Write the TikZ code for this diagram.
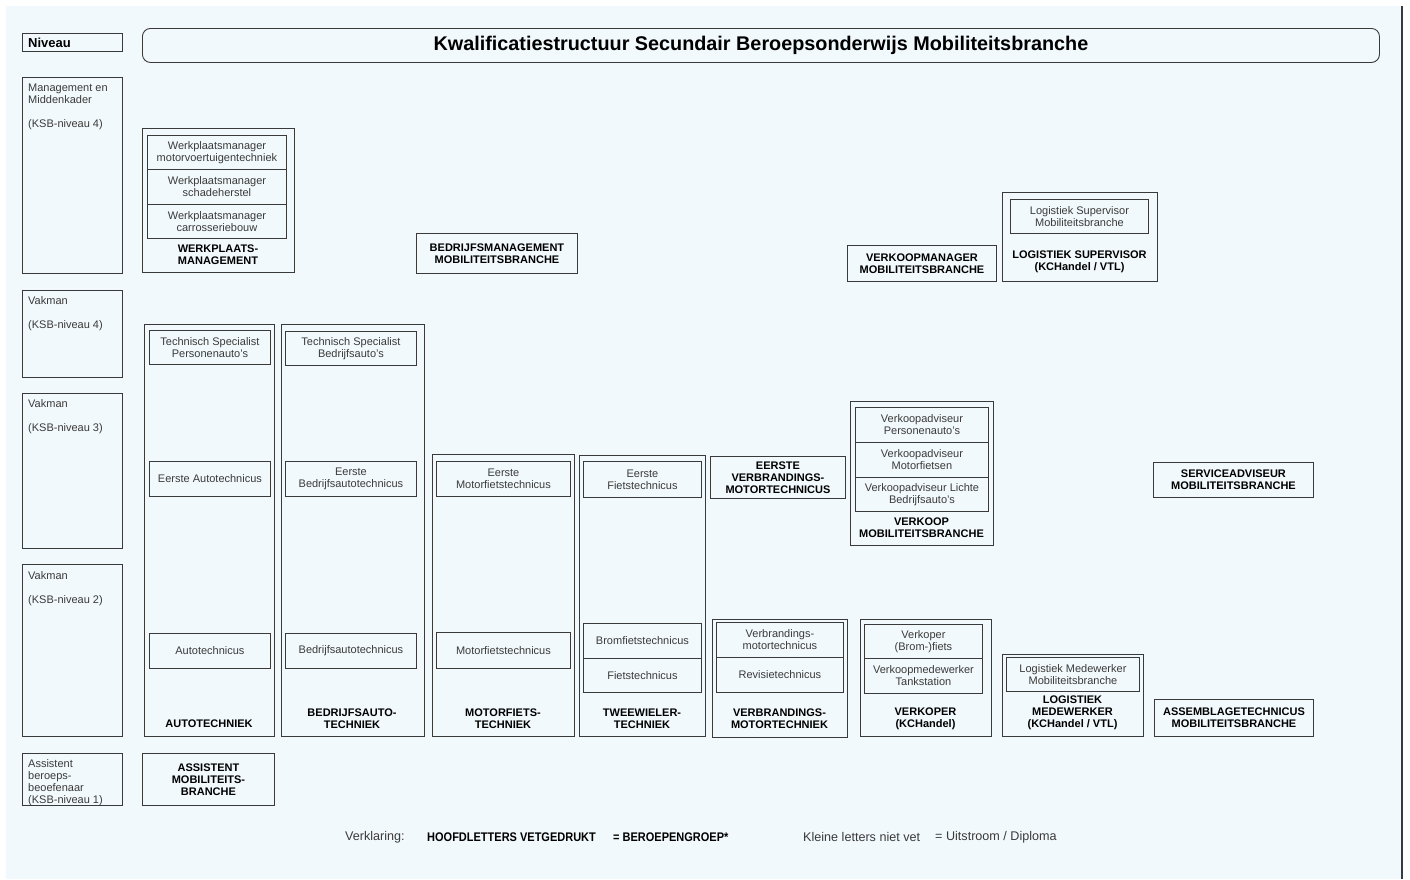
\documentclass[tikz,border=0pt]{standalone}
\usepackage{fontspec}
\setmainfont{Liberation Sans}
\newfontfamily\legbfont[FakeStretch=0.88]{Liberation Sans}
\definecolor{bgc}{HTML}{F2F9FC}
\definecolor{linec}{HTML}{3A3A3A}
\definecolor{txtc}{HTML}{3A3A3A}
\newcommand\regtxt{\fontsize{11}{12}\selectfont}
\newcommand\boldtxt{\fontsize{11}{12}\selectfont\bfseries}
\newcommand\titletxt{\fontsize{19.8}{22}\selectfont\bfseries}
\newcommand\bx[7][]{\node[box,#1,minimum width={#5-#3},minimum height={#6-#4}] (#2) at (#3,#4) {#7};}
\begin{document}
\begin{tikzpicture}[x=1pt,y=-1pt,
  box/.style={draw=linec, line width=0.9pt, inner sep=0pt, anchor=north west, align=center, font=\regtxt, text=txtc},
  bbox/.style={font=\boldtxt, text=black},
  lbl/.style={inner sep=0pt, align=center, font=\boldtxt, text=black},
  lvtxt/.style={inner sep=0pt, anchor=north west, align=left, font=\regtxt, text=txtc},
  legr/.style={inner sep=0pt, anchor=west, font=\fontsize{12.6}{14}\selectfont, text=txtc},
  legb/.style={inner sep=0pt, anchor=west, font=\legbfont\fontsize{12.5}{14}\selectfont\bfseries, text=black},
]
\fill[white] (0,0) rectangle (1410,879);
\useasboundingbox (0,0) rectangle (1410,879);
\fill[bgc] (6,6) rectangle (1402,879);
\draw[line width=1.5pt, linec] (1402,6) -- (1402,879);

% title and level column
\bx[rounded corners=8pt, font=\titletxt, text=black]{title}{142}{28}{1379}{62}{Kwalificatiestructuur Secundair Beroepsonderwijs Mobiliteitsbranche}
\bx{niv}{22}{33}{122}{51}{}
\node[inner sep=0pt, anchor=west, font=\fontsize{13}{14}\selectfont\bfseries] (nivt) at ([xshift=6pt]niv.west) {Niveau};
\bx{lv5}{22}{77}{122}{273}{}
\node[lvtxt] (lv5t) at ([xshift=6pt,yshift=-6.5pt]lv5.north west) {Management en\\Middenkader\\[12pt](KSB-niveau 4)};
\bx{lv4}{22}{290}{122}{377}{}
\node[lvtxt] (lv4t) at ([xshift=6pt,yshift=-6.5pt]lv4.north west) {Vakman\\[12pt](KSB-niveau 4)};
\bx{lv3}{22}{393}{122}{548}{}
\node[lvtxt] (lv3t) at ([xshift=6pt,yshift=-6.5pt]lv3.north west) {Vakman\\[12pt](KSB-niveau 3)};
\bx{lv2}{22}{564}{122}{736}{}
\node[lvtxt] (lv2t) at ([xshift=6pt,yshift=-7pt]lv2.north west) {Vakman\\[12pt](KSB-niveau 2)};
\bx{lv1}{22}{753}{122}{805}{}
\node[lvtxt] (lv1t) at ([xshift=6pt,yshift=-6.5pt]lv1.north west) {Assistent\\beroeps-\\beoefenaar\\(KSB-niveau 1)};

% werkplaatsmanagement
\bx{wpl}{142}{128}{294}{272}{}
\bx{wpl1}{147}{135}{286}{169}{Werkplaatsmanager\\motorvoertuigentechniek}
\bx{wpl2}{147}{169}{286}{204}{Werkplaatsmanager\\schadeherstel}
\bx{wpl3}{147}{204}{286}{238}{Werkplaatsmanager\\carrosseriebouw}
\node[lbl] (wpll) at (218,255) {WERKPLAATS-\\MANAGEMENT};

\bx[bbox]{bm}{416}{233}{577}{273}{BEDRIJFSMANAGEMENT\\MOBILITEITSBRANCHE}
\bx[bbox]{vm}{847}{245}{996}{281}{VERKOOPMANAGER\\MOBILITEITSBRANCHE}

\bx{ls}{1002}{192}{1157}{281}{}
\bx{ls1}{1010}{199}{1148}{233}{Logistiek Supervisor\\Mobiliteitsbranche}
\node[lbl] (lsl) at (1079.5,262) {LOGISTIEK SUPERVISOR\\(KCHandel / VTL)};

% autotechniek
\bx{at}{144}{324}{274}{736}{}
\bx{at1}{149}{330}{270}{364}{Technisch Specialist\\Personenauto's}
\bx{at2}{149}{461}{270}{496}{Eerste Autotechnicus}
\bx{at3}{149}{633}{270}{668}{Autotechnicus}
\node[lbl] (atl) at (209,724) {AUTOTECHNIEK};

% bedrijfsautotechniek
\bx{ba}{281}{324}{424}{736}{}
\bx{ba1}{285}{331}{416}{365}{Technisch Specialist\\Bedrijfsauto's}
\bx{ba2}{285}{461}{416}{496}{Eerste\\Bedrijfsautotechnicus}
\bx{ba3}{285}{633}{416}{668}{Bedrijfsautotechnicus}
\node[lbl] (bal) at (352,718.5) {BEDRIJFSAUTO-\\TECHNIEK};

% motorfietstechniek
\bx{mf}{432}{454}{574}{736}{}
\bx{mf1}{436}{461}{570}{496}{Eerste\\Motorfietstechnicus}
\bx{mf2}{436}{632}{570}{668}{Motorfietstechnicus}
\node[lbl] (mfl) at (503,718.5) {MOTORFIETS-\\TECHNIEK};

% tweewielertechniek
\bx{tw}{579}{455}{705}{736}{}
\bx{tw1}{583}{461}{701}{497}{Eerste\\Fietstechnicus}
\bx{tw2}{583}{623}{701}{658}{Bromfietstechnicus}
\bx{tw3}{583}{658}{701}{692}{Fietstechnicus}
\node[lbl] (twl) at (642,718.5) {TWEEWIELER-\\TECHNIEK};

% verbrandingsmotortechniek
\bx[bbox]{evm}{710}{456}{845}{498}{EERSTE\\VERBRANDINGS-\\MOTORTECHNICUS}
\bx{vb}{712}{619}{847}{737}{}
\bx{vb1}{716}{622}{843}{657}{Verbrandings-\\motortechnicus}
\bx{vb2}{716}{657}{843}{692}{Revisietechnicus}
\node[lbl] (vbl) at (779.5,718.5) {VERBRANDINGS-\\MOTORTECHNIEK};

% verkoop
\bx{vk}{850}{401}{993}{545}{}
\bx{vk1}{855}{407}{988}{442}{Verkoopadviseur\\Personenauto's}
\bx{vk2}{855}{442}{988}{477}{Verkoopadviseur\\Motorfietsen}
\bx{vk3}{855}{477}{988}{511}{Verkoopadviseur Lichte\\Bedrijfsauto's}
\node[lbl] (vkl) at (921.5,527.5) {VERKOOP\\MOBILITEITSBRANCHE};

\bx[bbox]{sa}{1153}{462}{1313}{497}{SERVICEADVISEUR\\MOBILITEITSBRANCHE}

% verkoper
\bx{vp}{860}{619}{991}{736}{}
\bx{vp1}{864}{624}{982}{658}{Verkoper\\(Brom-)fiets}
\bx{vp2}{864}{658}{982}{693}{Verkoopmedewerker\\Tankstation}
\node[lbl] (vpl) at (925.5,718.5) {VERKOPER\\(KCHandel)};

% logistiek medewerker
\bx{lm}{1002}{654}{1143}{736}{}
\bx{lm1}{1006}{657}{1139}{691}{Logistiek Medewerker\\Mobiliteitsbranche}
\node[lbl] (lml) at (1072.5,713) {LOGISTIEK\\MEDEWERKER\\(KCHandel / VTL)};

\bx[bbox]{as}{1154}{699}{1313}{736}{ASSEMBLAGETECHNICUS\\MOBILITEITSBRANCHE}

\bx[bbox]{amb}{142}{753}{274}{805}{ASSISTENT\\MOBILITEITS-\\BRANCHE}

% legend
\node[legr] (lg1) at (345,837) {Verklaring:};
\node[legb] (lg2) at (427,837) {HOOFDLETTERS VETGEDRUKT};
\node[legb] (lg3) at (613,837) {= BEROEPENGROEP*};
\node[legr] (lg4) at (803,837) {Kleine letters niet vet};
\node[legr] (lg5) at (935,837) {= Uitstroom / Diploma};
\end{tikzpicture}
\end{document}
